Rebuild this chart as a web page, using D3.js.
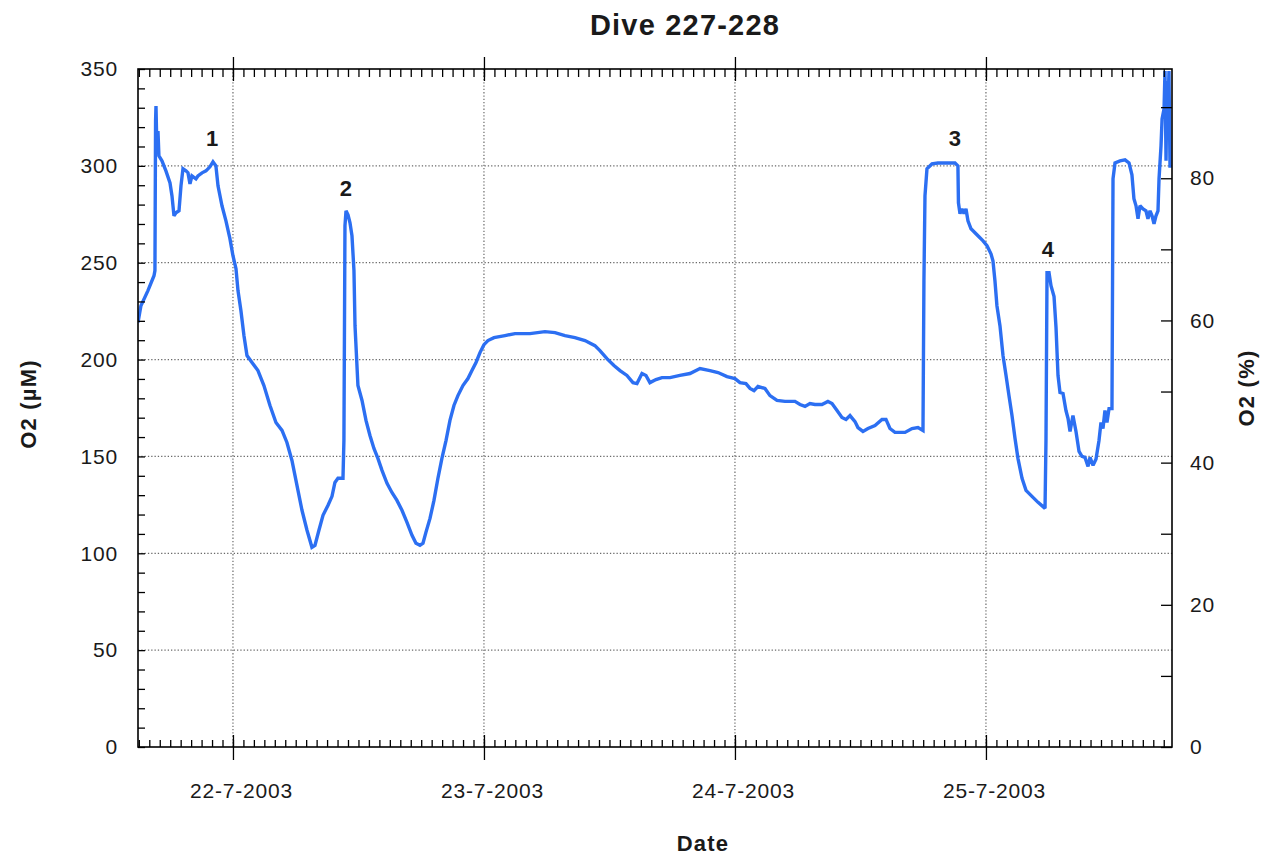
<!DOCTYPE html>
<html>
<head>
<meta charset="utf-8">
<title>Dive 227-228</title>
<script src="https://cdn.jsdelivr.net/npm/d3@7"></script>
<style>
  html, body { margin: 0; padding: 0; background: #fff; }
  svg { display: block; }
  text { font-family: "Liberation Sans", Arial, Helvetica, sans-serif; fill: #1a1a1a; }
</style>
</head>
<body>
<svg id="chart" width="1266" height="855"></svg>
<script>
// Hours elapsed since 21-7-2003 00:00, one entry per logged sample
const hours = [
  14.92, 15.20, 15.87, 16.45, 16.54, 16.60, 16.64, 16.73, 16.83, 16.92,
  17.21, 17.59, 17.98, 18.17, 18.36, 18.55, 18.84, 19.03, 19.22, 19.51,
  19.70, 19.89, 20.08, 20.46, 20.65, 21.04, 21.42, 21.80, 22.09, 22.37,
  22.57, 22.95, 23.33, 23.71, 24.00, 24.29, 24.48, 24.76, 25.05, 25.34,
  25.82, 26.39, 26.96, 27.54, 28.11, 28.69, 29.16, 29.64, 30.12, 30.60,
  31.08, 31.55, 31.84, 32.22, 32.61, 33.08, 33.47, 33.75, 34.04, 34.52,
  34.61, 34.71, 34.81, 35.00, 35.19, 35.38, 35.57, 35.67, 35.95, 36.34,
  36.72, 37.10, 37.48, 37.86, 38.25, 38.73, 39.20, 39.68, 40.16, 40.64,
  41.12, 41.50, 41.88, 42.17, 42.45, 42.84, 43.22, 43.60, 43.98, 44.37,
  44.75, 45.13, 45.51, 45.99, 46.47, 46.85, 47.24, 47.62, 48.00, 48.38,
  48.96, 50.01, 50.97, 52.40, 53.83, 54.79, 55.75, 56.70, 57.66, 58.61,
  59.09, 59.76, 60.43, 61.01, 61.67, 62.25, 62.63, 63.11, 63.49, 63.87,
  64.45, 65.02, 65.79, 66.74, 67.70, 68.66, 69.61, 70.38, 71.24, 72.00,
  72.48, 73.05, 73.44, 73.82, 74.20, 74.87, 75.35, 76.02, 76.78, 77.74,
  78.22, 78.70, 79.17, 79.65, 80.32, 80.89, 81.28, 81.76, 82.23, 82.62,
  83.00, 83.48, 83.76, 84.24, 84.72, 85.39, 86.06, 86.44, 86.82, 87.30,
  88.26, 88.93, 89.50, 89.98, 90.07, 90.17, 90.36, 90.84, 91.41, 92.56,
  93.04, 93.32, 93.37, 93.52, 93.71, 93.90, 94.09, 94.28, 94.57, 94.95,
  95.33, 95.72, 96.10, 96.48, 96.67, 96.86, 97.05, 97.34, 97.63, 97.92,
  98.20, 98.49, 98.78, 99.06, 99.45, 99.83, 100.40, 100.98, 101.65, 101.74,
  101.84, 102.03, 102.22, 102.51, 102.70, 102.89, 103.08, 103.37, 103.65, 103.85,
  104.04, 104.32, 104.61, 104.90, 105.18, 105.47, 105.76, 105.95, 106.24, 106.52,
  106.81, 107.00, 107.19, 107.38, 107.57, 107.77, 108.05, 108.15, 108.34, 108.82,
  109.30, 109.68, 109.96, 110.15, 110.35, 110.54, 110.73, 111.02, 111.30, 111.49,
  111.69, 111.88, 112.07, 112.26, 112.45, 112.55, 112.74, 112.84, 113.03, 113.12,
  113.22, 113.31, 113.41, 113.50, 113.60
];

// Dissolved oxygen concentration, µM
const o2 = [
  219.1, 227.8, 235.6, 243.3, 245.9, 323.2, 330.9, 307.7, 318.0, 305.2,
  302.6, 297.4, 291.2, 284.5, 274.2, 275.8, 276.8, 289.7, 298.5, 297.4,
  296.4, 290.7, 294.8, 293.3, 294.8, 296.4, 297.4, 299.5, 302.1, 300.0,
  289.7, 279.4, 271.6, 262.4, 253.6, 246.9, 235.6, 225.3, 212.4, 202.1,
  198.5, 194.3, 186.6, 176.3, 167.5, 163.4, 157.2, 147.9, 135.1, 122.2,
  111.9, 103.1, 104.1, 111.9, 119.6, 124.7, 129.4, 136.6, 138.7, 138.7,
  158.2, 269.1, 276.8, 274.7, 270.6, 263.9, 245.9, 217.5, 186.6, 178.9,
  168.6, 160.8, 154.1, 149.0, 142.8, 136.1, 131.4, 127.3, 122.2, 116.0,
  109.3, 105.2, 104.1, 105.2, 110.8, 118.0, 127.3, 138.7, 149.0, 158.2,
  168.6, 176.3, 181.4, 186.6, 190.2, 194.3, 198.5, 203.6, 207.7, 209.8,
  211.3, 212.4, 213.4, 213.4, 214.4, 213.9, 212.4, 211.3, 209.8, 207.2,
  204.6, 200.5, 196.9, 194.3, 191.8, 188.1, 187.6, 192.8, 191.8, 188.1,
  189.7, 190.7, 190.7, 191.8, 192.8, 195.4, 194.3, 193.3, 191.2, 190.2,
  188.1, 187.6, 185.1, 184.0, 186.1, 185.1, 181.4, 178.9, 178.4, 178.4,
  176.8, 175.8, 177.3, 176.8, 176.8, 178.4, 177.3, 173.7, 170.1, 169.1,
  171.1, 168.0, 164.9, 162.9, 164.4, 166.0, 169.1, 169.1, 164.4, 162.4,
  162.4, 164.4, 164.9, 163.4, 240.7, 284.5, 298.5, 301.0, 301.5, 301.5,
  301.5, 300.0, 280.9, 275.3, 277.8, 275.3, 277.8, 271.6, 267.5, 265.5,
  263.4, 261.3, 258.8, 254.6, 251.0, 240.7, 227.8, 217.5, 202.1, 191.8,
  181.4, 171.1, 159.3, 149.0, 138.7, 132.5, 129.4, 126.3, 123.2, 158.2,
  244.8, 244.8, 238.1, 232.5, 216.5, 191.8, 183.0, 182.5, 173.7, 169.6,
  162.9, 171.1, 162.9, 152.6, 150.0, 149.5, 144.8, 149.5, 145.4, 148.5,
  158.2, 167.5, 164.4, 173.7, 167.5, 174.7, 174.7, 293.3, 301.5, 302.6,
  303.1, 301.5, 295.4, 283.0, 279.4, 272.7, 279.4, 277.8, 276.8, 272.7,
  276.8, 274.2, 270.1, 274.2, 276.8, 293.3, 310.3, 324.2, 329.4, 349.0,
  302.6, 343.8, 328.4, 349.0, 299.0
];

// Numbered events along the record: [label, hour, µM]
const eventLabels = ["1", "2", "3", "4"];
const eventHours = [22.0, 34.8, 93.04, 101.93];
const eventO2 = [314.4, 288.7, 314.4, 257.2];

// Axis tick values
const o2Ticks = [0, 50, 100, 150, 200, 250, 300, 350];
const pctTicks = [0, 20, 40, 60, 80];
const dayTicks = ["2003-07-22", "2003-07-23", "2003-07-24", "2003-07-25"];

// 100 % saturation expressed in µM
const saturationUM = 367;

const base = new Date(2003, 6, 21, 0, 0, 0);
const toDate = h => new Date(base.getTime() + h * 3600e3);
const parseDay = d3.timeParse("%Y-%m-%d");

const svg = d3.select("#chart");
const margin = { left: 138, right: 94, top: 69, bottom: 108 };
const W = 1266, H = 855;
const x0 = margin.left, x1 = W - margin.right;
const y0 = H - margin.bottom, y1 = margin.top;

const x = d3.scaleTime()
  .domain([toDate(14.92), toDate(113.79)])
  .range([x0, x1]);
const y = d3.scaleLinear().domain([0, 350]).range([y0, y1]);
const yPct = d3.scaleLinear().domain([0, 350 / saturationUM * 100]).range([y0, y1]);

const gridColor = "#6a6a6a";

// Dotted grid
const grid = svg.append("g").attr("class", "grid")
  .attr("stroke", gridColor).attr("stroke-width", 1.2)
  .attr("stroke-dasharray", "1.3,2");
grid.selectAll("line.h").data(o2Ticks.filter(v => v > 0 && v < 350)).join("line")
  .attr("class", "h")
  .attr("x1", x0).attr("x2", x1)
  .attr("y1", d => y(d)).attr("y2", d => y(d));
grid.selectAll("line.v").data(dayTicks.map(parseDay)).join("line")
  .attr("class", "v")
  .attr("x1", d => x(d)).attr("x2", d => x(d))
  .attr("y1", y1).attr("y2", y0);

// Oxygen trace
svg.append("clipPath").attr("id", "plotClip")
  .append("rect").attr("x", x0).attr("y", y1 - 2).attr("width", x1 - x0).attr("height", y0 - y1 + 2);

const series = hours.map((h, i) => ({ t: toDate(h), v: o2[i] }));
svg.append("path")
  .datum(series)
  .attr("clip-path", "url(#plotClip)")
  .attr("fill", "none")
  .attr("stroke", "#2c6ff2")
  .attr("stroke-width", 3.4)
  .attr("stroke-linejoin", "miter")
  .attr("stroke-miterlimit", 2)
  .attr("d", d3.line().x(d => x(d.t)).y(d => y(d.v)));

// Event numbers
const ev = svg.append("g").attr("class", "events");
eventLabels.forEach((lab, i) => {
  const g = ev.append("g").attr("transform", `translate(${x(toDate(eventHours[i]))},${y(eventO2[i])})`);
  g.append("rect").attr("x", -10).attr("y", -13).attr("width", 20).attr("height", 26).attr("fill", "#fff");
  g.append("text")
    .attr("text-anchor", "middle").attr("dy", "0.36em")
    .attr("font-size", 22).attr("font-weight", "bold")
    .text(lab);
});

// Axes
const styleAxis = g => {
  g.select(".domain").remove();
  g.selectAll(".tick line").attr("stroke", "#000").attr("stroke-width", 1.3);
  g.selectAll("text").attr("font-size", 21).attr("letter-spacing", "0.8px").attr("fill", "#1f1f1f")
    .style("font-family", '"Liberation Sans", Arial, sans-serif');
};

const hourTicks = d3.timeHour.every(1).range(x.domain()[0], x.domain()[1]);
const days = dayTicks.map(parseDay);

// bottom: hourly minor ticks pointing in, day ticks crossing the frame
svg.append("g").attr("transform", `translate(0,${y0})`)
  .call(d3.axisBottom(x).tickValues(hourTicks).tickSize(-7).tickFormat(""))
  .call(styleAxis);
svg.append("g").attr("transform", `translate(0,${y0})`)
  .call(d3.axisBottom(x).tickValues(days).tickSize(-12).tickFormat(""))
  .call(styleAxis);
svg.append("g").attr("transform", `translate(0,${y0})`)
  .call(d3.axisBottom(x).tickValues(days).tickSize(13).tickPadding(23).tickFormat(d3.timeFormat("%-d-%-m-%Y")))
  .call(styleAxis)
  .call(g => g.selectAll(".tick text").attr("dx", 8));

// top: same structure, no labels
svg.append("g").attr("transform", `translate(0,${y1})`)
  .call(d3.axisTop(x).tickValues(hourTicks).tickSize(-8).tickFormat(""))
  .call(styleAxis);
svg.append("g").attr("transform", `translate(0,${y1})`)
  .call(d3.axisTop(x).tickValues(days).tickSize(-12).tickFormat(""))
  .call(styleAxis);
svg.append("g").attr("transform", `translate(0,${y1})`)
  .call(d3.axisTop(x).tickValues(days).tickSize(12).tickFormat(""))
  .call(styleAxis);

// left: µM, minor ticks every 10
svg.append("g").attr("transform", `translate(${x0},0)`)
  .call(d3.axisLeft(y).tickValues(d3.range(0, 351, 10)).tickSize(-7).tickPadding(20)
    .tickFormat(d => o2Ticks.includes(d) ? d3.format("d")(d) : ""))
  .call(styleAxis);

// right: percent saturation, ticks every 10 %
svg.append("g").attr("transform", `translate(${x1},0)`)
  .call(d3.axisRight(yPct).tickValues(d3.range(0, 95, 10)).tickSize(-11).tickPadding(18)
    .tickFormat(d => pctTicks.includes(d) ? d3.format("d")(d) : ""))
  .call(styleAxis);

// Plot frame
svg.append("rect")
  .attr("x", x0).attr("y", y1).attr("width", x1 - x0).attr("height", y0 - y1)
  .attr("fill", "none").attr("stroke", "#000").attr("stroke-width", 1.6);

// Titles
svg.append("text")
  .attr("x", (x0 + x1) / 2 + 30).attr("y", 25).attr("dy", "0.36em")
  .attr("text-anchor", "middle").attr("font-size", 29).attr("font-weight", "bold")
  .attr("letter-spacing", "1.2px")
  .text("Dive 227-228");

svg.append("text")
  .attr("x", 703).attr("y", 843).attr("dy", "0.36em")
  .attr("text-anchor", "middle").attr("font-size", 22).attr("font-weight", "bold")
  .attr("letter-spacing", "1.2px")
  .text("Date");

svg.append("text")
  .attr("transform", "translate(28,404) rotate(-90)")
  .attr("dy", "0.36em")
  .attr("text-anchor", "middle").attr("font-size", 22).attr("font-weight", "bold")
  .attr("letter-spacing", "1.2px")
  .text("O2 (µM)");

svg.append("text")
  .attr("transform", "translate(1246,388) rotate(-90)")
  .attr("dy", "0.36em")
  .attr("text-anchor", "middle").attr("font-size", 22).attr("font-weight", "bold")
  .attr("letter-spacing", "1.2px")
  .text("O2 (%)");
</script>
</body>
</html>
